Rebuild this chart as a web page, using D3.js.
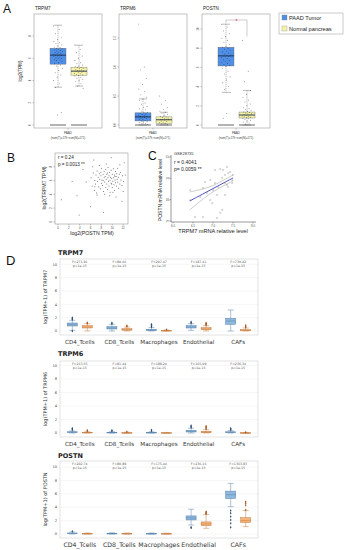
<!DOCTYPE html>
<html><head><meta charset="utf-8">
<script src="https://cdn.jsdelivr.net/npm/d3@7"></script>
<style>body{margin:0;background:#fff} svg{display:block}</style>
</head><body><svg id="c" width="346" height="550"></svg>
<script>
// ---------- Panel A data ----------
const aGenes = ["TRPM7", "TRPM6", "POSTN"];
const aGroups = ["PAAD Tumor", "Normal pancreas"];
const aTicks = [[0,2,4,6,8],[0,0.5,1,1.5],[0,2,4,6,8,10]];
const aTickLabels = [["0","2","4","6","8"],["0.0","0.5","1.0","1.5"],["0","2","4","6","8","10"]];
// [whiskerLow, q1, median, q3, whiskerHigh]
const aTumorStats = [[3.4,5.47,6.28,6.9,8.97],[0,0.07,0.14,0.21,0.45],[3.4,6.15,7.2,8.1,10.5]];
const aNormalStats = [[3.5,4.48,4.84,5.2,7.17],[0,0.03,0.09,0.14,0.22],[0,0.73,1.04,1.35,3.6]];
const aTumorPts = [
 [8.9,8.6,8.2,7.9,7.7,7.5,7.4,7.3,7.2,7.1,7.0,6.95,6.9,6.85,6.8,6.75,6.7,6.65,6.6,6.55,6.5,6.45,6.4,6.35,6.3,6.3,6.25,6.2,6.15,6.1,6.05,6.0,5.95,5.9,5.85,5.8,5.7,5.6,5.5,5.4,5.3,5.1,4.9,4.7,4.5,4.3,4.0,3.7,3.4,1.1,0.9],
 [1.74,1.0,0.95,0.8,0.7,0.62,0.58,0.52,0.48,0.45,0.42,0.38,0.35,0.32,0.3,0.28,0.26,0.24,0.22,0.21,0.2,0.19,0.18,0.17,0.16,0.15,0.15,0.14,0.14,0.13,0.12,0.11,0.1,0.09,0.08,0.07,0.06,0.05,0.04,0.03,0.02,0.01],
 [10.5,10.2,9.8,9.5,9.2,9.0,8.8,8.6,8.4,8.2,8.1,8.0,7.9,7.8,7.7,7.6,7.5,7.4,7.3,7.25,7.2,7.15,7.1,7.0,6.9,6.8,6.7,6.6,6.5,6.4,6.3,6.2,6.1,5.9,5.6,5.3,5.0,4.7,4.4,4.0,3.7,3.4,1.2,0.7]
];
const aNormalPts = [
 [7.2,6.8,6.5,6.2,6.0,5.8,5.6,5.5,5.4,5.3,5.25,5.2,5.15,5.1,5.05,5.0,4.95,4.9,4.85,4.85,4.8,4.75,4.7,4.65,4.6,4.55,4.5,4.45,4.4,4.3,4.2,4.1,4.0,3.9,3.7,3.5,3.3],
 [0.5,0.42,0.36,0.3,0.27,0.24,0.22,0.2,0.18,0.16,0.15,0.14,0.13,0.12,0.11,0.1,0.1,0.09,0.09,0.08,0.07,0.06,0.05,0.04,0.03,0.02,0.01],
 [8.8,5.6,4.5,3.6,3.2,2.9,2.6,2.4,2.2,2.0,1.8,1.7,1.6,1.5,1.4,1.35,1.3,1.25,1.2,1.15,1.1,1.05,1.0,0.95,0.9,0.85,0.8,0.75,0.7,0.65,0.6,0.5,0.4,0.3,0.2,0.1]
];
// ---------- Panel B data ----------
const bX = [0.6,2.6,3.5,3.9,5.2,4.6,6.0,8.4,11.8,12.4,12.2,6.6,9.8,
 6.1,6.3,6.5,6.7,6.8,6.9,7.0,7.1,7.2,7.3,7.4,7.5,7.6,7.7,7.8,7.9,8.0,8.0,8.1,8.2,8.3,8.4,8.5,8.5,8.6,8.7,8.8,8.8,8.9,9.0,9.0,9.1,9.2,9.2,9.3,9.4,9.4,9.5,9.6,9.6,9.7,9.8,9.8,9.9,10.0,10.0,10.1,10.2,10.2,10.3,10.4,10.4,10.5,10.6,10.6,10.7,10.8,10.8,10.9,11.0,11.0,11.1,11.2,11.3,11.4,11.5,11.6,11.8,11.9,12.1,7.6,8.9,9.5,10.7,7.2,6.4,11.4,12.0,9.1,8.3,9.9,10.5,8.6,6.8,7.9,10.1];
const bY = [3.2,5.9,3.8,1.0,5.8,7.6,2.2,1.4,3.0,6.8,8.6,9.0,9.3,
 6.4,5.2,7.1,4.6,6.0,5.5,6.8,4.2,7.4,5.9,6.5,5.1,7.0,6.2,4.8,6.7,5.6,7.8,6.1,5.3,6.9,4.4,6.4,7.3,5.8,6.6,5.0,7.6,6.2,5.5,6.9,4.7,6.4,7.9,5.9,6.7,5.2,7.2,6.0,4.3,6.5,5.6,7.5,6.3,5.0,6.9,5.9,7.7,6.4,5.4,6.8,4.6,6.1,7.3,5.7,6.6,5.2,7.0,6.2,5.8,7.8,6.5,4.9,6.9,5.5,7.2,6.1,5.3,6.7,5.9,8.2,8.4,3.8,3.6,3.9,8.0,8.3,4.4,7.1,6.0,5.5,6.6,4.0,5.1,7.2,4.3];
const bXTicks = [0,2,4,6,8,10,12];
const bYTicks = [0,2,4,6,8];
// ---------- Panel C data ----------
const cX = [6.43,6.75,7.05,7.18,7.3,7.38,7.43,7.48,7.5,7.05,7.3,7.35,6.93,6.98,7.23,7.18,6.75,6.55,7.1,7.3,6.85,6.68,6.43,7.13,7.0,7.38,7.48,7.23,6.93,7.25,7.1,7.35,6.8];
const cY = [10.45,10.55,11.39,11.44,11.16,11.25,11.3,10.92,11.16,10.78,10.78,10.69,9.98,9.84,9.52,9.38,9.19,9.19,9.14,10.22,10.31,10.13,9.98,10.59,10.45,10.59,10.78,11.02,10.92,11.39,10.22,11.53,10.83];
const cFitX = [6.42,6.75,7.0,7.25,7.5];
const cFitY = [9.94,10.27,10.52,10.77,11.02];
const cCiUp = [10.36,10.5,10.64,10.9,11.16];
const cCiLo = [9.52,10.04,10.38,10.64,10.88];
const cXTicks = [6.0,6.5,7.0,7.5,8.0];
const cYTicks = [9,10,11,12];
// ---------- Panel D data ----------
const dGenes = ["TRPM7","TRPM6","POSTN"];
const dCats = ["CD4_Tcells","CD8_Tcells","Macrophages","Endothelial","CAFs"];
const dF = [["F=271.91","F=80.66","F=207.47","F=187.41","F=730.42"],
            ["F=213.55","F=81.44","F=188.24","F=165.09","F=236.34"],
            ["F=202.74","F=80.89","F=175.44","F=236.16","F=1363.83"]];
const dP = "p<1e-15";
const dYTicks = [0,2,4,6,8,10];
// [whiskerLow, q1, median, q3, whiskerHigh]
const dBlue = [
 [[0.1,0.75,0.95,1.2,1.6],[0,0.3,0.45,0.65,1.0],[0,0.06,0.15,0.25,0.5],[0.1,0.45,0.6,0.8,1.1],[0,1.0,1.5,1.9,3.15]],
 [[0,0.08,0.12,0.18,0.3],[0,0.03,0.06,0.1,0.2],[0,0.02,0.05,0.09,0.18],[0,0.15,0.25,0.4,0.7],[0,0.05,0.1,0.18,0.35]],
 [[0,0.05,0.1,0.15,0.3],[0,0.03,0.06,0.1,0.18],[0,0.02,0.05,0.08,0.15],[1.34,2.1,2.4,2.7,3.7],[4.08,5.3,5.87,6.4,7.56]]
];
const dOrange = [
 [[0,0.45,0.6,0.8,1.1],[0,0.12,0.22,0.35,0.6],[0,0.02,0.05,0.08,0.15],[0,0.2,0.3,0.5,0.8],[0,0.03,0.1,0.2,0.45]],
 [[0,0.03,0.06,0.1,0.2],[0,0.01,0.03,0.06,0.12],[0,0.01,0.02,0.04,0.08],[0,0.05,0.12,0.25,0.5],[0,0.01,0.02,0.04,0.08]],
 [[0,0.02,0.05,0.08,0.15],[0,0.02,0.05,0.08,0.15],[0,0.02,0.04,0.07,0.12],[0.85,1.24,1.5,1.8,2.9],[1.1,1.7,2.0,2.44,3.5]]
];
const dBlueOut = [
 [[1.7,1.85,2.0,0.0],[1.1,1.2],[0.6,0.75,0.9,1.0],[1.2,1.35],[]],
 [[0.45,0.6,0.7],[0.3,0.4],[0.3,0.45],[0.8,0.95,1.1],[0.45,0.6,0.7]],
 [[0.4],[],[],[0.9,1.0],[3.5,3.1,2.6,2.1,1.6,1.0]]
];
const dOrangeOut = [
 [[1.15,1.25],[0.7,0.8],[0.2],[0.9,1.0,1.1,1.2],[0.55,0.7,0.85]],
 [[0.3,0.4],[0.2],[],[0.6,0.75,0.9,1.0],[0.12]],
 [[],[],[],[3.0,3.1,3.2,3.35],[3.6,4.3,4.6,4.8]]
];

// ---------- drawing ----------
const svg = d3.select("#c");
const SANS = "Liberation Sans, Arial, sans-serif";
const DJ = "DejaVu Sans, sans-serif";
const tumorCol = "#4f8fe6", normalCol = "#f6f3a8";

function label(t,x,y,size){svg.append("text").attr("x",x).attr("y",y).attr("font-family",SANS).attr("font-size",size).attr("fill","#111").text(t);}
label("A",3,13,12); label("B",7,162,12); label("C",148,160,12); label("D",6,265,13);

// Panel A
const aX0 = [34,119,202], aW = 68, aTop = 14, aBot = 128;
const aRangeTop = [36,38,29];
const aDomTop = [8,1.5,10];
function jitter(i, w){ return (((i*37)%23)/22 - 0.5)*w; }
aGenes.forEach((g,gi)=>{
  const x0 = aX0[gi];
  const y = d3.scaleLinear().domain([0,aDomTop[gi]]).range([125,aRangeTop[gi]]);
  const gA = svg.append("g");
  gA.append("rect").attr("x",x0).attr("y",aTop).attr("width",aW).attr("height",aBot-aTop).attr("fill","none").attr("stroke","#9a9a9a").attr("stroke-width",0.6);
  gA.append("text").attr("x",x0+1).attr("y",10).attr("font-family",SANS).attr("font-size",4.6).attr("fill","#222").text(g);
  aTicks[gi].forEach((t,ti)=>{
    gA.append("line").attr("x1",x0-1.5).attr("x2",x0).attr("y1",y(t)).attr("y2",y(t)).attr("stroke","#666").attr("stroke-width",0.4);
    gA.append("text").attr("transform",`translate(${x0-3},${y(t)}) rotate(-90)`).attr("text-anchor","middle").attr("font-family",SANS).attr("font-size",3).attr("fill","#444").text(aTickLabels[gi][ti]);
  });
  const cx = [x0+24, x0+45];
  const stats = [aTumorStats[gi], aNormalStats[gi]];
  const pts = [aTumorPts[gi], aNormalPts[gi]];
  const cols = [tumorCol, normalCol];
  [0,1].forEach(k=>{
    const s = stats[k], c = cx[k], bw = 16;
    gA.append("line").attr("x1",c-8).attr("x2",c+8).attr("y1",y(0)).attr("y2",y(0)).attr("stroke","#8a8a8a").attr("stroke-width",1.3);
    gA.append("line").attr("x1",c).attr("x2",c).attr("y1",y(s[4])).attr("y2",y(s[3])).attr("stroke","#555").attr("stroke-width",0.4).attr("stroke-dasharray","1.2,0.8");
    gA.append("line").attr("x1",c).attr("x2",c).attr("y1",y(s[1])).attr("y2",y(s[0])).attr("stroke","#555").attr("stroke-width",0.4).attr("stroke-dasharray","1.2,0.8");
    [s[0],s[4]].forEach(v=>gA.append("line").attr("x1",c-4).attr("x2",c+4).attr("y1",y(v)).attr("y2",y(v)).attr("stroke","#555").attr("stroke-width",0.4));
    gA.append("rect").attr("x",c-bw/2).attr("y",y(s[3])).attr("width",bw).attr("height",y(s[1])-y(s[3])).attr("fill",cols[k]).attr("stroke","#6a6a6a").attr("stroke-width",0.4);
    gA.append("line").attr("x1",c-bw/2).attr("x2",c+bw/2).attr("y1",y(s[2])).attr("y2",y(s[2])).attr("stroke","#1d2a4a").attr("stroke-width",0.9);
    gA.selectAll(null).data(pts[k]).enter().append("circle")
      .attr("cx",(d,i)=>c+jitter(i,9)).attr("cy",d=>y(d)).attr("r",0.45).attr("fill","#111").attr("opacity",0.75);
  });
  gA.append("line").attr("x1",x0+aW/2).attr("x2",x0+aW/2).attr("y1",aBot).attr("y2",aBot+1.5).attr("stroke","#666").attr("stroke-width",0.4);
  gA.append("text").attr("x",x0+aW/2).attr("y",134).attr("text-anchor","middle").attr("font-family",SANS).attr("font-size",3).attr("fill","#444").text("PAAD");
  gA.append("text").attr("x",x0+aW/2).attr("y",139).attr("text-anchor","middle").attr("font-family",SANS).attr("font-size",2.8).attr("fill","#444").text("(num(T)=179; num(N)=171)");
  if(gi===0){
    gA.append("text").attr("transform",`translate(22,71) rotate(-90)`).attr("text-anchor","middle").attr("font-family",SANS).attr("font-size",4.5).attr("fill","#222").text("log2(TPM)");
  }
  if(gi===2){
    const yb = 20;
    gA.append("path").attr("d",`M${cx[0]},${y(aTumorStats[2][4])-1} V${yb} H${cx[1]} V${y(aNormalPts[2][0])-4}`).attr("fill","none").attr("stroke","#999").attr("stroke-width",0.5);
    gA.append("text").attr("x",(cx[0]+cx[1])/2).attr("y",yb+2.5).attr("text-anchor","middle").attr("font-family",SANS).attr("font-size",5).attr("fill","#e02020").text("*");
  }
});
// legend
svg.append("rect").attr("x",279).attr("y",13).attr("width",64).attr("height",21).attr("fill","#fff").attr("stroke","#999").attr("stroke-width",0.5);
aGroups.forEach((g,i)=>{
  svg.append("rect").attr("x",282).attr("y",15+i*11).attr("width",5).attr("height",5).attr("fill",i===0?tumorCol:normalCol).attr("stroke","#777").attr("stroke-width",0.3);
  svg.append("text").attr("x",289).attr("y",19.8+i*11).attr("font-family",SANS).attr("font-size",5.6).attr("fill","#222").text(g);
});

// Panel B
{
  const x = d3.scaleLinear().domain([-0.55,12.9]).range([55,128]);
  const y = d3.scaleLinear().domain([-0.3,10]).range([224,153]);
  const g = svg.append("g");
  g.append("rect").attr("x",55).attr("y",153).attr("width",73).attr("height",71).attr("fill","none").attr("stroke","#9a9a9a").attr("stroke-width",0.6);
  bXTicks.forEach(t=>{
    g.append("line").attr("x1",x(t)).attr("x2",x(t)).attr("y1",224).attr("y2",225.5).attr("stroke","#666").attr("stroke-width",0.4);
    g.append("text").attr("x",x(t)).attr("y",229).attr("text-anchor","middle").attr("font-family",SANS).attr("font-size",2.8).attr("fill","#444").text(t);
  });
  bYTicks.forEach(t=>{
    g.append("line").attr("x1",53.5).attr("x2",55).attr("y1",y(t)).attr("y2",y(t)).attr("stroke","#666").attr("stroke-width",0.4);
    g.append("text").attr("transform",`translate(52,${y(t)}) rotate(-90)`).attr("text-anchor","middle").attr("font-family",SANS).attr("font-size",2.8).attr("fill","#444").text(t);
  });
  g.selectAll(null).data(bX).enter().append("circle").attr("cx",d=>x(d)).attr("cy",(d,i)=>y(bY[i])).attr("r",0.5).attr("fill","#333").attr("opacity",0.8);
  g.append("text").attr("x",58).attr("y",159).attr("font-family",SANS).attr("font-size",4.6).attr("fill","#222").text("r = 0.24");
  g.append("text").attr("x",58).attr("y",165.5).attr("font-family",SANS).attr("font-size",4.6).attr("fill","#222").text("p = 0.0013  **");
  g.append("text").attr("x",92).attr("y",235).attr("text-anchor","middle").attr("font-family",SANS).attr("font-size",5.2).attr("fill","#222").text("log2(POSTN TPM)");
  g.append("text").attr("transform",`translate(46,188) rotate(-90)`).attr("text-anchor","middle").attr("font-family",SANS).attr("font-size",5.2).attr("fill","#222").text("log2(TRPM7 TPM)");
}

// Panel C
{
  const x = d3.scaleLinear().domain([6.0,8.0]).range([173,253]);
  const y = d3.scaleLinear().domain([9,12]).range([221,157]);
  const g = svg.append("g");
  g.append("line").attr("x1",171).attr("x2",171).attr("y1",155).attr("y2",222).attr("stroke","#333").attr("stroke-width",0.5);
  g.append("line").attr("x1",171).attr("x2",256).attr("y1",222).attr("y2",222).attr("stroke","#333").attr("stroke-width",0.5);
  cXTicks.forEach(t=>{
    g.append("line").attr("x1",x(t)).attr("x2",x(t)).attr("y1",222).attr("y2",223.5).attr("stroke","#333").attr("stroke-width",0.4);
    g.append("text").attr("x",x(t)).attr("y",227).attr("text-anchor","middle").attr("font-family",SANS).attr("font-size",2.8).attr("fill","#444").text(t.toFixed(1));
  });
  cYTicks.forEach(t=>{
    g.append("line").attr("x1",169.5).attr("x2",171).attr("y1",y(t)).attr("y2",y(t)).attr("stroke","#333").attr("stroke-width",0.4);
    g.append("text").attr("transform",`translate(168.5,${y(t)}) rotate(-90)`).attr("text-anchor","middle").attr("font-family",SANS).attr("font-size",2.8).attr("fill","#444").text(t);
  });
  const ln = d3.line().x((d,i)=>x(cFitX[i])).y(d=>y(d)).curve(d3.curveBasis);
  g.append("path").attr("d",ln(cCiUp)).attr("fill","none").attr("stroke","#aaa").attr("stroke-width",0.6);
  g.append("path").attr("d",ln(cCiLo)).attr("fill","none").attr("stroke","#aaa").attr("stroke-width",0.6);
  g.append("path").attr("d",ln(cFitY)).attr("fill","none").attr("stroke","#3a3fb8").attr("stroke-width",0.9);
  g.selectAll(null).data(cX).enter().append("circle").attr("cx",d=>x(d)).attr("cy",(d,i)=>y(cY[i])).attr("r",0.7).attr("fill","none").attr("stroke","#888").attr("stroke-width",0.35);
  g.append("text").attr("x",174).attr("y",154.5).attr("font-family",SANS).attr("font-size",4).attr("fill","#333").text("GSE28735");
  g.append("text").attr("x",174).attr("y",164).attr("font-family",SANS).attr("font-size",5).attr("fill","#222").text("r = 0.4041");
  g.append("text").attr("x",174).attr("y",170.5).attr("font-family",SANS).attr("font-size",5).attr("fill","#222").text("p= 0.0059 **");
  g.append("text").attr("x",213).attr("y",232.5).attr("text-anchor","middle").attr("font-family",SANS).attr("font-size",5.6).attr("fill","#222").text("TRPM7 mRNA relative level");
  g.append("text").attr("transform",`translate(162,190) rotate(-90)`).attr("text-anchor","middle").attr("font-family",SANS).attr("font-size",5).attr("fill","#222").text("POSTN mRNA relative level");
}

// Panel D
const dLayout = [
  {title:255, top:259, y0:331, y10:264.3, bot:335, xl:343.5},
  {title:356, top:361, y0:433, y10:365.5, bot:437, xl:445.5},
  {title:458, top:461, y0:534, y10:467, bot:538, xl:546.5}
];
const dx = d3.scaleBand().domain(dCats).range([60,258]);
dGenes.forEach((gname,gi)=>{
  const L = dLayout[gi];
  const y = d3.scaleLinear().domain([0,10]).range([L.y0,L.y10]);
  const g = svg.append("g");
  g.append("text").attr("x",58).attr("y",L.title).attr("font-family",DJ).attr("font-size",6.5).attr("font-weight","bold").attr("fill","#222").text(gname);
  dYTicks.forEach(t=>{
    g.append("line").attr("x1",60).attr("x2",258).attr("y1",y(t)).attr("y2",y(t)).attr("stroke","#ececec").attr("stroke-width",0.5);
    g.append("text").attr("x",57).attr("y",y(t)+1.2).attr("text-anchor","end").attr("font-family",DJ).attr("font-size",3.6).attr("fill","#444").text(t);
  });
  g.append("rect").attr("x",60).attr("y",L.top).attr("width",198).attr("height",L.bot-L.top).attr("fill","none").attr("stroke","#cfcfcf").attr("stroke-width",0.6);
  g.append("text").attr("transform",`translate(47,${(L.top+L.bot)/2}) rotate(-90)`).attr("text-anchor","middle").attr("font-family",DJ).attr("font-size",5).attr("fill","#333").text(`log(TPM+1) of ${gname}`);
  dCats.forEach((cat,ci)=>{
    const c = dx(cat)+dx.bandwidth()/2;
    g.append("text").attr("x",c).attr("y",L.xl).attr("text-anchor","middle").attr("font-family",DJ).attr("font-size",gi===2?6.2:5.6).attr("fill","#333").text(cat);
    g.append("text").attr("x",c).attr("y",L.top+3.8).attr("text-anchor","middle").attr("font-family",DJ).attr("font-size",3.2).attr("fill","#555").text(dF[gi][ci]);
    g.append("text").attr("x",c).attr("y",L.top+7.8).attr("text-anchor","middle").attr("font-family",DJ).attr("font-size",3.2).attr("fill","#555").text(dP);
    const sets = [
      {s:dBlue[gi][ci], o:dBlueOut[gi][ci], cx:c-7.5, fill:"#8fb8dd", st:"#5a83ad", oc:"#274a70"},
      {s:dOrange[gi][ci], o:dOrangeOut[gi][ci], cx:c+7.5, fill:"#f4b47c", st:"#c57c42", oc:"#a3561e"}
    ];
    sets.forEach(S=>{
      const s=S.s, bw=10;
      g.append("line").attr("x1",S.cx).attr("x2",S.cx).attr("y1",y(s[0])).attr("y2",y(s[4])).attr("stroke",S.st).attr("stroke-width",0.5);
      [s[0],s[4]].forEach(v=>g.append("line").attr("x1",S.cx-3).attr("x2",S.cx+3).attr("y1",y(v)).attr("y2",y(v)).attr("stroke",S.st).attr("stroke-width",0.5));
      g.append("rect").attr("x",S.cx-bw/2).attr("y",y(s[3])).attr("width",bw).attr("height",Math.max(0.6,y(s[1])-y(s[3]))).attr("fill",S.fill).attr("stroke",S.st).attr("stroke-width",0.5);
      g.append("line").attr("x1",S.cx-bw/2).attr("x2",S.cx+bw/2).attr("y1",y(s[2])).attr("y2",y(s[2])).attr("stroke",S.st).attr("stroke-width",0.5);
      g.selectAll(null).data(S.o).enter().append("path")
        .attr("d",d3.symbol().type(d3.symbolDiamond).size(2.2))
        .attr("transform",d=>`translate(${S.cx},${y(d)})`).attr("fill",S.oc);
    });
  });
});
</script></body></html>
